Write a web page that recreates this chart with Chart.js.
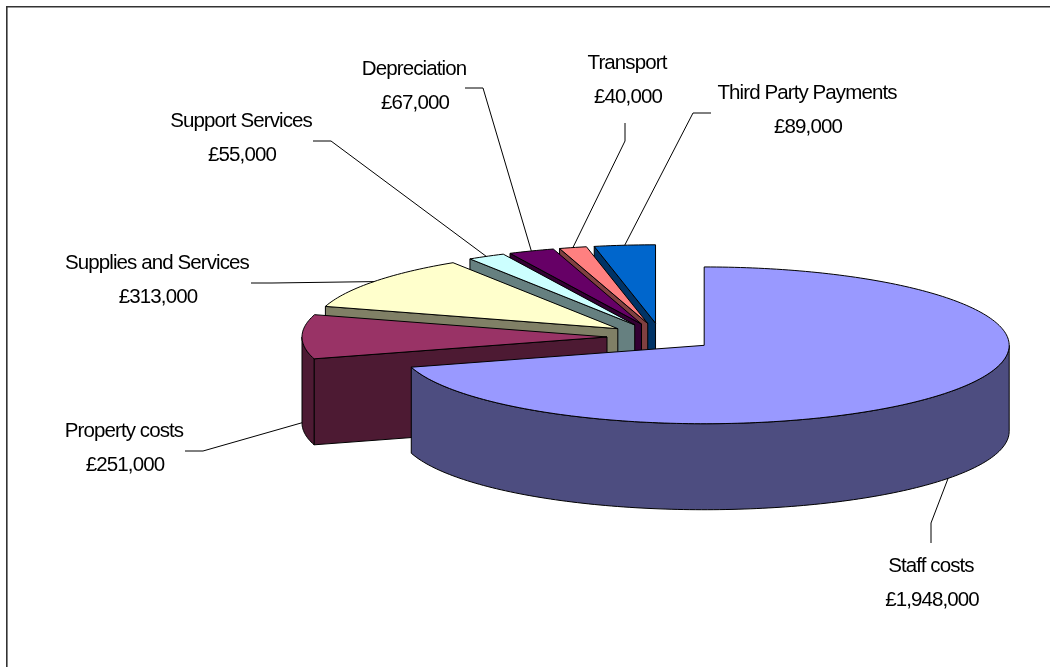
<!DOCTYPE html>
<html>
<head>
<meta charset="utf-8">
<title>Costs</title>
<style>
  html, body { margin: 0; padding: 0; background: #fff; overflow: hidden; }
  canvas { display: block; }
</style>
<script src="https://cdn.jsdelivr.net/npm/chart.js@4"></script>
</head>
<body>
<canvas id="costChart" width="1050" height="667"></canvas>
<script>
const categories = ["Staff costs", "Property costs", "Supplies and Services", "Support Services", "Depreciation", "Transport", "Third Party Payments"];
const costs = [1948000, 251000, 313000, 55000, 67000, 40000, 89000];
const topColors = ["#9999ff", "#993366", "#ffffcc", "#ccffff", "#660066", "#ff8080", "#0066cc"];
const wallColors = ["#4d4d80", "#4d1a33", "#808066", "#668080", "#330033", "#804040", "#003366"];
// label centre x, first baseline y
const labelSpots = [[931, 572], [124, 437], [157, 269], [241, 127], [414, 75], [627, 69], [807, 99]];
// start and elbow of each leader, the tip comes from the slice
const leaderElbows = [
  [[931, 543], [931, 523]],
  [[185, 451], [203, 451]],
  [[251, 283], [272, 283]],
  [[313, 141], [331, 141]],
  [[465, 88], [483, 88]],
  [[625, 123], [625, 141]],
  [[711, 113], [693, 113]]
];

const SQUASH = 0.257;   // ellipse height / width
const DEPTH = 86;       // height of the pie wall
const EXPLODE = 54;     // how far slices move out of the centre

function slicePoint(arc, angle, radius, dy) {
  const mid = (arc.startAngle + arc.endAngle) / 2;
  return {
    x: arc.x + Math.cos(mid) * EXPLODE + Math.cos(angle) * radius,
    y: arc.y + (Math.sin(mid) * EXPLODE + Math.sin(angle) * radius) * SQUASH + (dy || 0)
  };
}

function paintFace(ctx, points, fill) {
  ctx.beginPath();
  points.forEach((p, i) => i ? ctx.lineTo(p.x, p.y) : ctx.moveTo(p.x, p.y));
  ctx.closePath();
  ctx.fillStyle = fill;
  ctx.fill();
  ctx.stroke();
}

function rimPoints(arc, from, to, dy) {
  const pts = [];
  const steps = Math.max(2, Math.ceil((to - from) / 0.02));
  for (let i = 0; i <= steps; i++) {
    pts.push(slicePoint(arc, from + (to - from) * i / steps, arc.outerRadius, dy));
  }
  return pts;
}

function drawSlice(ctx, arc, index) {
  const a0 = arc.startAngle, a1 = arc.endAngle, r = arc.outerRadius;
  const wall = wallColors[index];
  const cutFace = (angle) => paintFace(ctx, [
    slicePoint(arc, angle, 0), slicePoint(arc, angle, r),
    slicePoint(arc, angle, r, DEPTH), slicePoint(arc, angle, 0, DEPTH)
  ], wall);

  // cut faces turned to the viewer
  if (-Math.cos(a0) > 0.001) cutFace(a0);
  if (Math.cos(a1) > 0.001) cutFace(a1);

  // curved wall, only the part under the front half of the ellipse
  for (let k = 0; k <= 2; k += 2) {
    const from = Math.max(a0, k * Math.PI), to = Math.min(a1, (k + 1) * Math.PI);
    if (to > from) {
      paintFace(ctx, rimPoints(arc, from, to, 0).concat(rimPoints(arc, from, to, DEPTH).reverse()), wall);
    }
  }

  // top
  paintFace(ctx, [slicePoint(arc, a0, 0)].concat(rimPoints(arc, a0, a1, 0)), arc.options.backgroundColor);
}

const pie3d = {
  id: "pie3d",
  beforeDatasetsDraw(chart) {
    const ctx = chart.ctx;
    const arcs = chart.getDatasetMeta(0).data;
    ctx.save();
    ctx.strokeStyle = "#000";
    ctx.lineWidth = 1;
    ctx.lineJoin = "round";
    for (let i = arcs.length - 1; i >= 0; i--) drawSlice(ctx, arcs[i], i);
    ctx.restore();
    return false;
  },
  afterDraw(chart) {
    const ctx = chart.ctx;
    const arcs = chart.getDatasetMeta(0).data;
    ctx.save();

    // frame, only top and left are in view
    ctx.strokeStyle = "#333";
    ctx.lineWidth = 1.6;
    ctx.beginPath();
    ctx.moveTo(6.8, 667);
    ctx.lineTo(6.8, 6.8);
    ctx.lineTo(1050, 6.8);
    ctx.stroke();

    // leaders
    ctx.strokeStyle = "#000";
    ctx.lineWidth = 1;
    arcs.forEach((arc, i) => {
      const mid = (arc.startAngle + arc.endAngle) / 2;
      const tip = slicePoint(arc, mid, arc.outerRadius, Math.sin(mid) > -0.05 ? DEPTH : 0);
      const [start, elbow] = leaderElbows[i];
      ctx.beginPath();
      ctx.moveTo(start[0], start[1]);
      ctx.lineTo(elbow[0], elbow[1]);
      ctx.lineTo(tip.x, tip.y);
      ctx.stroke();
    });

    // labels, the original text is tall and set tight
    ctx.fillStyle = "#000";
    ctx.font = "20.5px 'Liberation Sans', Arial, sans-serif";
    ctx.letterSpacing = "-0.9px";
    ctx.textAlign = "center";
    ctx.textBaseline = "alphabetic";
    categories.forEach((name, i) => {
      const [x, y] = labelSpots[i];
      ctx.fillText(name, x, y);
      ctx.fillText("£" + costs[i].toLocaleString("en-GB"), x + 1, y + 34);
    });
    ctx.restore();
  }
};

new Chart(document.getElementById("costChart"), {
  type: "pie",
  data: {
    labels: categories,
    datasets: [{ data: costs, backgroundColor: topColors, borderWidth: 0, hoverOffset: 0 }]
  },
  options: {
    responsive: false,
    animation: false,
    radius: 305,
    layout: { padding: { left: 272, top: 7 } },
    events: [],
    plugins: { legend: { display: false }, tooltip: { enabled: false } }
  },
  plugins: [pie3d]
});
</script>
</body>
</html>
